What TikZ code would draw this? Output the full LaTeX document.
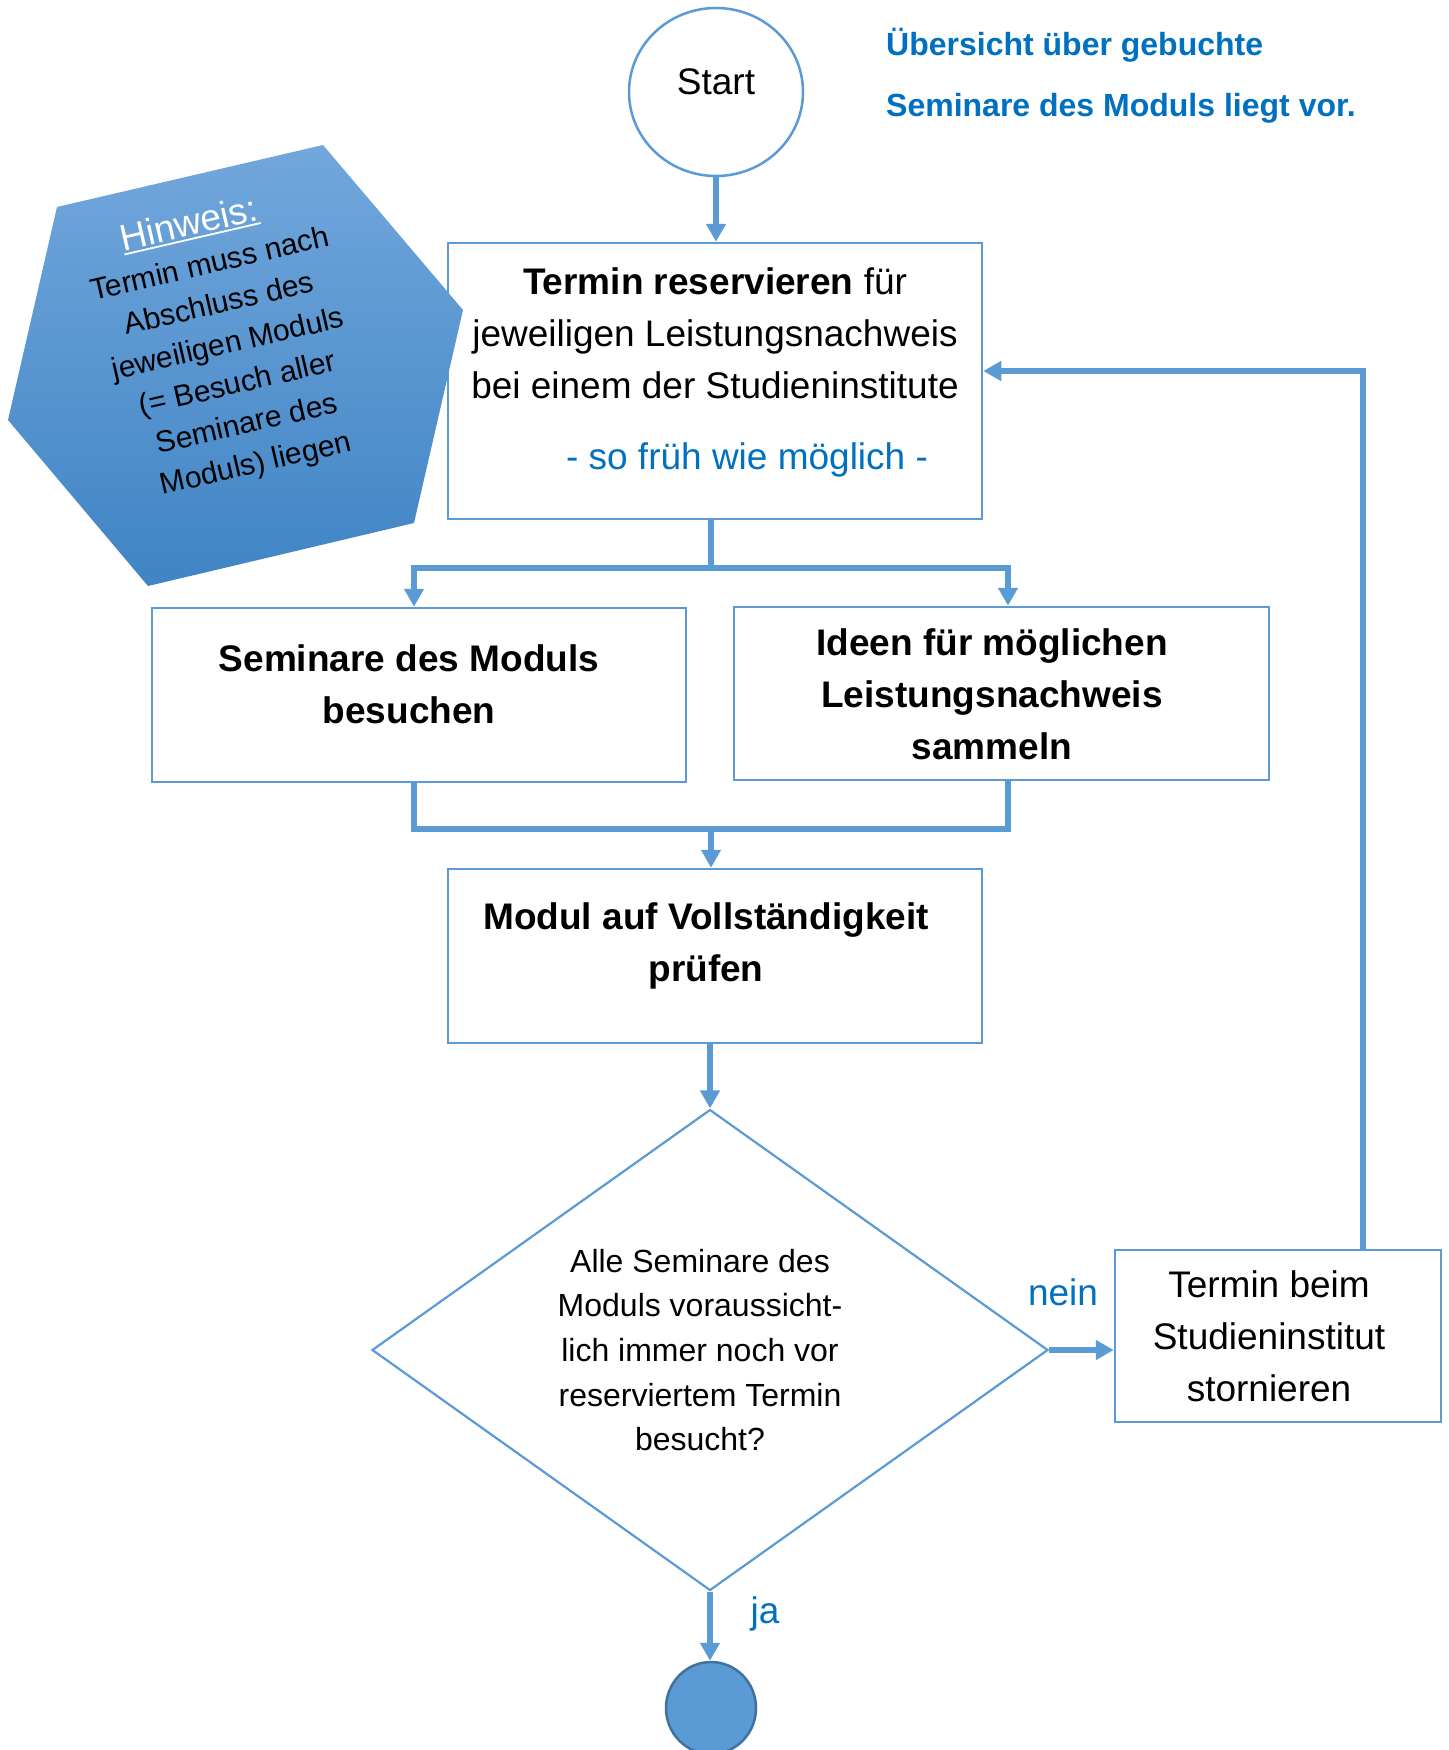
\documentclass[tikz,border=0pt]{standalone}
\usepackage{fontspec}
\setmainfont{Liberation Sans}
\usetikzlibrary{shapes.geometric,arrows.meta}
\definecolor{lblue}{HTML}{5B9BD5}
\definecolor{tblue}{HTML}{0070C0}
\definecolor{dblue}{HTML}{41719C}
\definecolor{hextop}{HTML}{72A7DC}
\definecolor{hexbot}{HTML}{3F84C5}
\newsavebox\hwbox
\newcommand{\myul}[1]{\sbox\hwbox{#1}\rlap{\rule[-4pt]{\wd\hwbox}{1.8pt}}\usebox\hwbox}
\begin{document}
\begin{tikzpicture}[x=1pt,y=-1pt,
  box/.style={draw=lblue, line width=2.5pt, rectangle, inner sep=0pt, fill=white},
  txt/.style={align=center, font=\fontsize{37}{52}\selectfont, inner sep=0pt},
  btxt/.style={align=center, font=\bfseries\fontsize{37}{52}\selectfont, inner sep=0pt},
  arr/.style={draw=lblue, line width=6pt, -{Triangle[width=19pt,length=18pt]}},
  conn/.style={draw=lblue, line width=6pt},
  lbl/.style={text=tblue, font=\fontsize{37}{44}\selectfont, inner sep=0pt, anchor=base}
]
\useasboundingbox (0,0) rectangle (1448,1750);
\fill[white] (0,0) rectangle (1448,1750);

% nodes
\node[ellipse, draw=lblue, line width=2.5pt, minimum width=174pt, minimum height=168pt, inner sep=0pt] (start) at (716,92) {};
\node[txt] (startt) at (716,82) {Start};

\node[box, minimum width=534pt, minimum height=276pt] (b1) at (715,381) {};
\node[box, minimum width=534pt, minimum height=174pt] (b2) at (419,695) {};
\node[box, minimum width=535pt, minimum height=173pt] (b3) at (1001.5,693.5) {};
\node[box, minimum width=534pt, minimum height=174pt] (b4) at (715,956) {};
\node[diamond, draw=lblue, line width=2.2pt, minimum width=676pt, minimum height=481pt, inner sep=0pt] (dia) at (710,1350) {};
\node[box, minimum width=326pt, minimum height=172pt] (b5) at (1278,1336) {};
\node[ellipse, fill=lblue, draw=dblue, line width=2.5pt, minimum width=90pt, minimum height=92pt, inner sep=0pt] (endc) at (711,1708) {};

% connectors
\draw[arr] (start.south) -- (start.south |- b1.north);
\coordinate (split) at (711,568);
\draw[conn] ([xshift=-4pt]b1.south) -- (split);
\draw[arr] (split) -| ([xshift=-5pt]b2.north);
\draw[arr] (split) -| ([xshift=6.5pt]b3.north);
\coordinate (merge) at (711,829);
\draw[conn] ([xshift=-5pt]b2.south) |- (merge);
\draw[conn] ([xshift=6.5pt]b3.south) |- (merge);
\draw[arr] (merge) -- (merge |- b4.north);
\draw[arr] (dia.north |- b4.south) -- (dia.north);
\draw[arr] (dia.east) -- (dia.east -| b5.west);
\draw[arr] ([xshift=85pt]b5.north) |- ([yshift=10pt]b1.east);
\draw[arr] (dia.south) -- (dia.south |- endc.north);

% hexagon note
\shade[top color=hextop, bottom color=hexbot] (57,207) -- (323,145) -- (463,310) -- (414,523) -- (148,586) -- (8,420) -- cycle;
\node[rotate=13, align=center, font=\fontsize{30}{41}\selectfont, inner sep=0pt] (hint) at (228,343)
  {{\fontsize{37}{41}\selectfont\color{white}\myul{Hinweis:}}\hspace*{22pt}\\Termin muss nach\\Abschluss des\\jeweiligen Moduls\\(= Besuch aller\\Seminare des\\Moduls) liegen};

% texts
\node[anchor=west, align=left, text=tblue, font=\bfseries\fontsize{32}{61}\selectfont, inner sep=0pt] (info) at (886,76) {Übersicht über gebuchte\\Seminare des Moduls liegt vor.};
\node[txt] (b1t) at (715,333) {\textbf{Termin reservieren} für\\jeweiligen Leistungsnachweis\\bei einem der Studieninstitute};
\node[txt, text=tblue] (b1n) at (747,460) {- so früh wie möglich -};
\node[btxt] (b2t) at (409,684) {Seminare des Moduls\\besuchen};
\node[btxt] (b3t) at (992,694) {Ideen für möglichen\\Leistungsnachweis\\sammeln};
\node[btxt] (b4t) at (706,946) {Modul auf Vollständigkeit\\prüfen};
\node[txt] (b5t) at (1269,1336) {Termin beim\\Studieninstitut\\stornieren};
\node[align=center, font=\fontsize{32}{44.7}\selectfont, inner sep=0pt] (diat) at (700,1350) {Alle Seminare des\\Moduls voraussicht-\\lich immer noch vor\\reserviertem Termin\\besucht?};
\node[lbl] (nein) at (1063,1305) {nein};
\node[lbl] (ja) at (765,1623) {ja};
\end{tikzpicture}
\end{document}
